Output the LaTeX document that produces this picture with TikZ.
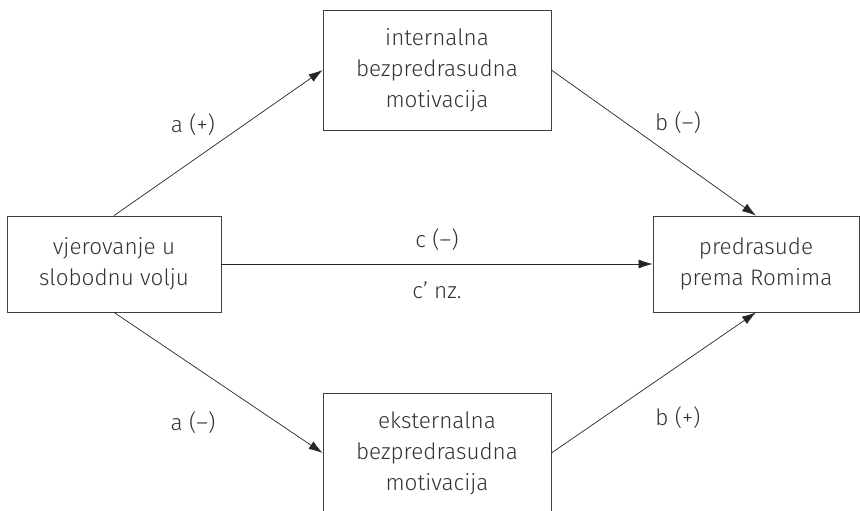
\documentclass[tikz,border=0pt]{standalone}
\usepackage{fontspec}
\setmainfont{Fira Sans Light}
\usetikzlibrary{arrows.meta}

\begin{document}
\begin{tikzpicture}[
x=1pt, y=-1pt,
box/.style={
draw=black!75,
line width=0.8pt,
rectangle,
align=center,
inner sep=0pt,
font=\fontsize{22.5}{31}\selectfont,
text=black!80
},
lab/.style={font=\fontsize{22.5}{26}\selectfont, text=black!80},
link/.style={-{Latex[length=14pt,width=9pt]}, line width=0.7pt, draw=black!85}
]
\useasboundingbox (0,0) rectangle (860,511);
\clip (0,0) rectangle (860,511);
\node[box, minimum width=214pt, minimum height=96pt] (volja) at (114,264) {vjerovanje u\\slobodnu volju};
\node[box, minimum width=228pt, minimum height=120pt] (intern) at (437,70) {internalna\\bezpredrasudna\\motivacija};
\node[box, minimum width=228pt, minimum height=120pt] (extern) at (437,453) {eksternalna\\bezpredrasudna\\motivacija};
\node[box, minimum width=206pt, minimum height=96pt] (predr) at (756,264) {predrasude\\prema Romima};
% putanje
\foreach \i/\j in {volja.north/intern.west, intern.east/predr.north, volja/predr, volja.south/extern.west, extern.east/predr.south}
\draw[link] (\i) -- (\j);
\node[lab] (la) at (193,125) {a (+)};
\node[lab] (lb) at (678,123) {b (–)};
\node[lab] (lc) at (437,240) {c (–)};
\node[lab] (lcc) at (437,290) {c’ nz.};
\node[lab] (la2) at (193,423) {a (–)};
\node[lab] (lb2) at (678,418) {b (+)};
\end{tikzpicture}
\end{document}
